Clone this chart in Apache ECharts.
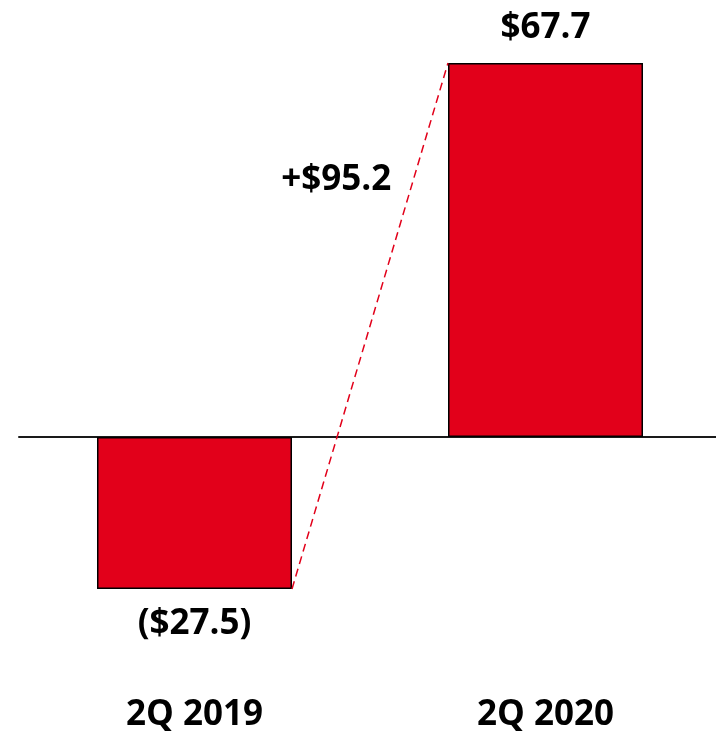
<!DOCTYPE html>
<html>
<head>
<meta charset="utf-8">
<script src="https://cdn.jsdelivr.net/npm/echarts@6/dist/echarts.min.js"></script>
<style>html,body{margin:0;padding:0;background:#fff;}#c{width:716px;height:734px;}</style>
</head>
<body>
<div id="c"></div>
<script>
const categories = ['2Q 2019', '2Q 2020'];
const values = [-27.5, 67.7];
const valueLabels = ['($27.5)', '$67.7'];

const FONT = '"Open Sans"';
const FS = 35;
const BAR_W = 195;
const chart = echarts.init(document.getElementById('c'), null, {renderer: 'canvas'});
const delta = +(values[1] - values[0]).toFixed(1);

chart.setOption({
  animation: false,
  grid: {left: 19, width: 702, top: 50.25, height: 663, outerBoundsMode: 'none', containLabel: false},
  xAxis: [
    {type: 'category', data: categories, axisLine: {onZero: true, lineStyle: {color: '#1a1a1a', width: 2}},
     axisTick: {show: false}, axisLabel: {show: false}},
    {type: 'category', data: categories, position: 'bottom', offset: -16,
     axisLine: {show: false, onZero: false}, axisTick: {show: false},
     axisLabel: {show: true, margin: 0, verticalAlign: 'top', color: '#000', fontFamily: FONT, fontWeight: 'bold', fontSize: FS}}
  ],
  yAxis: {type: 'value', min: -50, max: 70, show: false, splitLine: {show: false}},
  series: [
    {type: 'bar', xAxisIndex: 0, barWidth: BAR_W,
     data: values.map((v, i) => ({value: v, label: {position: v < 0 ? 'bottom' : 'top', distance: v < 0 ? 18 : 17, formatter: valueLabels[i]}})),
     itemStyle: {color: '#E2001A', borderColor: '#000', borderWidth: 1.5},
     label: {show: true, color: '#000', fontFamily: FONT, fontWeight: 'bold', fontSize: FS},
     z: 3},
    {type: 'custom', xAxisIndex: 0, data: [[0, values[0], 1, values[1]]], z: 4,
     renderItem: function (params, api) {
       const p0 = api.coord([api.value(0), api.value(1)]);
       const p1 = api.coord([api.value(2), api.value(3)]);
       const x0 = p0[0] + BAR_W / 2, y0 = p0[1];
       const x1 = p1[0] - BAR_W / 2, y1 = p1[1];
       const ty = 180;
       const t = (y0 - ty) / (y0 - y1);
       const lx = x0 + t * (x1 - x0);
       return {type: 'group', children: [
         {type: 'line', shape: {x1: x0, y1: y0, x2: x1, y2: y1},
          style: {stroke: '#E2001A', lineWidth: 1.5, lineDash: [8, 5]}},
         {type: 'text', x: lx - 22, y: ty,
          style: {text: '+$' + delta.toFixed(1), fill: '#000', font: 'bold ' + FS + 'px ' + FONT, textAlign: 'right', textVerticalAlign: 'middle'}}
       ]};
     }}
  ]
});
</script>
</body>
</html>
